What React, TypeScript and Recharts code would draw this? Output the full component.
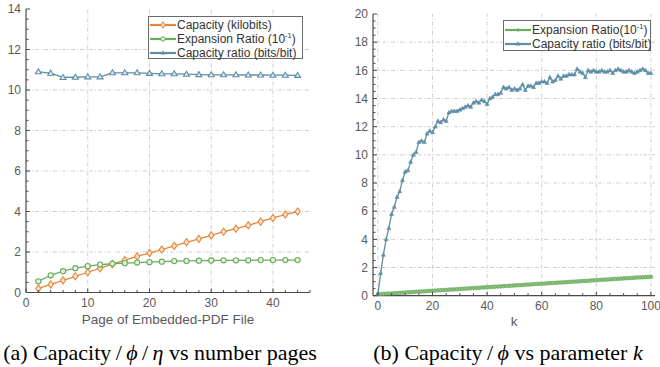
import React from 'react';
import { LineChart, Line, XAxis, YAxis, ReferenceLine } from 'recharts';

// (a) capacity vs number of pages
const pages = [2, 4, 6, 8, 10, 12, 14, 16, 18, 20, 22, 24, 26, 28, 30, 32, 34, 36, 38, 40, 42, 44];
const capacityKb = [0.2, 0.4, 0.6, 0.8, 1.0, 1.2, 1.4, 1.6, 1.78, 1.95, 2.12, 2.3, 2.48, 2.65, 2.82, 3.0, 3.15, 3.32, 3.5, 3.68, 3.85, 4.0];
const expansionA = [0.55, 0.85, 1.05, 1.2, 1.3, 1.38, 1.42, 1.45, 1.48, 1.5, 1.52, 1.55, 1.56, 1.57, 1.58, 1.59, 1.59, 1.59, 1.6, 1.6, 1.6, 1.6];
const ratioA = [10.9, 10.83, 10.62, 10.63, 10.65, 10.65, 10.85, 10.85, 10.85, 10.82, 10.8, 10.8, 10.78, 10.76, 10.75, 10.75, 10.75, 10.74, 10.74, 10.73, 10.73, 10.72];

// (b) capacity vs parameter k
const kValues = [
  0, 1, 2, 3, 4, 5, 6, 7, 8, 9, 10, 11, 12, 13, 14, 15, 16, 17, 18, 19,
  20, 21, 22, 23, 24, 25, 26, 27, 28, 29, 30, 31, 32, 33, 34, 35, 36, 37, 38, 39,
  40, 41, 42, 43, 44, 45, 46, 47, 48, 49, 50, 51, 52, 53, 54, 55, 56, 57, 58, 59,
  60, 61, 62, 63, 64, 65, 66, 67, 68, 69, 70, 71, 72, 73, 74, 75, 76, 77, 78, 79,
  80, 81, 82, 83, 84, 85, 86, 87, 88, 89, 90, 91, 92, 93, 94, 95, 96, 97, 98, 99, 100,
];
const expansionB = [
  0.10, 0.11, 0.13, 0.14, 0.15, 0.16, 0.18, 0.19, 0.20, 0.21, 0.23, 0.24, 0.25, 0.26, 0.28, 0.29, 0.30, 0.31, 0.33, 0.34,
  0.35, 0.36, 0.38, 0.39, 0.40, 0.41, 0.43, 0.44, 0.45, 0.46, 0.48, 0.49, 0.50, 0.51, 0.53, 0.54, 0.55, 0.56, 0.58, 0.59,
  0.60, 0.61, 0.63, 0.64, 0.65, 0.66, 0.68, 0.69, 0.70, 0.71, 0.73, 0.74, 0.75, 0.76, 0.78, 0.79, 0.80, 0.81, 0.83, 0.84,
  0.85, 0.86, 0.88, 0.89, 0.90, 0.91, 0.93, 0.94, 0.95, 0.96, 0.98, 0.99, 1.00, 1.01, 1.03, 1.04, 1.05, 1.06, 1.08, 1.09,
  1.10, 1.11, 1.13, 1.14, 1.15, 1.16, 1.18, 1.19, 1.20, 1.21, 1.23, 1.24, 1.25, 1.26, 1.28, 1.29, 1.30, 1.31, 1.32, 1.33, 1.34,
];
const ratioB = [
  0.1, 1.6, 2.9, 4.0, 4.8, 5.8, 6.3, 7.0, 7.4, 8.2, 8.8, 8.9, 9.5, 10.0, 10.2, 10.9, 11.0, 10.9, 11.5, 11.7,
  11.6, 12.0, 12.4, 12.3, 12.5, 12.4, 13.0, 13.1, 13.1, 13.1, 13.2, 13.3, 13.4, 13.5, 13.4, 13.7, 13.8, 13.7, 13.9, 13.8,
  13.6, 14.0, 14.1, 14.3, 14.3, 14.4, 14.8, 14.7, 14.8, 14.6, 14.7, 14.6, 14.7, 15.0, 14.6, 14.9, 14.9, 14.8, 15.1, 15.1,
  15.2, 15.2, 15.1, 15.5, 15.2, 15.3, 15.6, 15.4, 15.6, 15.6, 15.7, 15.7, 15.7, 16.1, 15.9, 15.8, 15.5, 16.0, 15.9, 16.0,
  15.9, 15.9, 16.0, 15.9, 15.9, 16.0, 15.8, 16.0, 16.1, 16.0, 15.9, 15.9, 16.0, 15.9, 15.8, 15.9, 16.0, 16.1, 16.0, 15.8, 15.8,
];

const ticksA_x = [0, 2, 4, 6, 8, 10, 12, 14, 16, 18, 20, 22, 24, 26, 28, 30, 32, 34, 36, 38, 40, 42, 44, 46];
const gridA_x = [10, 20, 30, 40];
const ticksA_y = [0, 0.5, 1, 1.5, 2, 2.5, 3, 3.5, 4, 4.5, 5, 5.5, 6, 6.5, 7, 7.5, 8, 8.5, 9, 9.5, 10, 10.5, 11, 11.5, 12, 12.5, 13, 13.5, 14];
const gridA_y = [2, 4, 6, 8, 10, 12];
const ticksB_x = [0, 5, 10, 15, 20, 25, 30, 35, 40, 45, 50, 55, 60, 65, 70, 75, 80, 85, 90, 95, 100];
const gridB_x = [0, 20, 40, 60, 80, 100];
const ticksB_y = [
  0, 0.5, 1, 1.5, 2, 2.5, 3, 3.5, 4, 4.5, 5, 5.5, 6, 6.5, 7, 7.5, 8, 8.5, 9, 9.5, 10,
  10.5, 11, 11.5, 12, 12.5, 13, 13.5, 14, 14.5, 15, 15.5, 16, 16.5, 17, 17.5, 18, 18.5, 19, 19.5, 20,
];
const gridB_y = [2, 4, 6, 8, 10, 12, 14, 16, 18];

const ORANGE = '#e3883b';
const GREEN = '#6aab5e';
const BLUE = '#5f8ea6';
const FRAME = '#4a4a4a';
const TEXT = '#5a5a5a';
const SANS = '"Liberation Sans", Arial, sans-serif';

const dataA = pages.map((p, i) => ({ page: p, cap: capacityKb[i], exp: expansionA[i], ratio: ratioA[i] }));
const dataB = kValues.map((k, i) => ({ k, exp: expansionB[i], ratio: ratioB[i] }));

const makeTick = (side: string, step: number, margin: number, labels: boolean) => (props: any) => {
  const { x, y, payload } = props;
  const v = payload.value;
  const major = Math.abs(v / step - Math.round(v / step)) < 1e-6;
  const len = major ? 4 : 2.5;
  let line = null;
  let text = null;
  if (side === 'bottom') {
    const ay = y - margin;
    line = <line x1={x} x2={x} y1={ay} y2={ay - len} stroke={FRAME} />;
    if (labels && major) text = <text x={x} y={y} dy="0.71em" textAnchor="middle" fill={TEXT} fontSize={12} fontFamily={SANS}>{v}</text>;
  } else if (side === 'left') {
    const ax = x + margin;
    line = <line x1={ax} x2={ax + len} y1={y} y2={y} stroke={FRAME} />;
    if (labels && major) text = <text x={x} y={y} dy="0.35em" textAnchor="end" fill={TEXT} fontSize={12} fontFamily={SANS}>{v}</text>;
  } else if (side === 'top') {
    line = <line x1={x} x2={x} y1={y} y2={y + len} stroke={FRAME} />;
  } else {
    line = <line x1={x} x2={x - len} y1={y} y2={y} stroke={FRAME} />;
  }
  return <g>{line}{text}</g>;
};

const diamond = (p: any) => {
  if (p.cx == null) return <g key={p.index} />;
  const { cx, cy } = p;
  return <path key={p.index} d={`M${cx} ${cy - 3.6}L${cx + 2.6} ${cy}L${cx} ${cy + 3.6}L${cx - 2.6} ${cy}Z`} fill="#fbe3cf" stroke={ORANGE} strokeWidth={1.1} />;
};
const circle = (p: any) => {
  if (p.cx == null) return <g key={p.index} />;
  return <circle key={p.index} cx={p.cx} cy={p.cy} r={2.6} fill="#e4f1e0" stroke={GREEN} strokeWidth={1.1} />;
};
const triangle = (p: any) => {
  if (p.cx == null) return <g key={p.index} />;
  const { cx, cy } = p;
  return <path key={p.index} d={`M${cx} ${cy - 3}L${cx + 3} ${cy + 2}L${cx - 3} ${cy + 2}Z`} fill="#dfeaf0" stroke={BLUE} strokeWidth={1.1} />;
};
const smallTriangle = (p: any) => {
  if (p.cx == null) return <g key={p.index} />;
  const { cx, cy } = p;
  return <path key={p.index} d={`M${cx} ${cy - 2.2}L${cx + 2} ${cy + 1.4}L${cx - 2} ${cy + 1.4}Z`} fill={BLUE} stroke={BLUE} strokeWidth={0.6} />;
};
const smallDot = (p: any) => {
  if (p.cx == null) return <g key={p.index} />;
  return <circle key={p.index} cx={p.cx} cy={p.cy} r={1.8} fill="#8cc07f" stroke={GREEN} strokeWidth={0.8} />;
};

const gridStroke = { stroke: '#cfcfcf', strokeDasharray: '4 2 1 2', strokeWidth: 1 };

const Sample = ({ color, marker }: { color: string; marker: string }) => (
  <svg width={26} height={10} style={{ display: 'block', flex: 'none' }}>
    <line x1={0} x2={26} y1={5} y2={5} stroke={color} strokeWidth={2.2} />
    {marker === 'diamond' && <path d="M13 1.8L15.2 5L13 8.2L10.8 5Z" fill="#fbe3cf" stroke={color} strokeWidth={1} />}
    {marker === 'circle' && <circle cx={13} cy={5} r={2.2} fill="#e4f1e0" stroke={color} strokeWidth={1} />}
    {marker === 'triangle' && <path d="M13 2.2L15.6 6.6L10.4 6.6Z" fill={color} />}
    {marker === 'star' && <circle cx={13} cy={5} r={1.5} fill={color} />}
  </svg>
);

const LegendRow = ({ color, marker, children }: any) => (
  <div style={{ display: 'flex', alignItems: 'center', height: 14, whiteSpace: 'nowrap' }}>
    <Sample color={color} marker={marker} />
    <span style={{ marginLeft: 1 }}>{children}</span>
  </div>
);

const legendBox: React.CSSProperties = {
  position: 'absolute',
  background: '#fff',
  border: '1.3px solid #6a6a6a',
  fontFamily: SANS,
  fontSize: 12,
  color: '#333',
  boxSizing: 'border-box',
};

const supStyle: React.CSSProperties = { fontSize: 7.5, verticalAlign: 5, lineHeight: 0 };

const captionStyle: React.CSSProperties = {
  position: 'absolute',
  top: 342,
  textAlign: 'center',
  fontFamily: '"Liberation Serif", serif',
  fontSize: 22,
  lineHeight: '22px',
  color: '#000',
  whiteSpace: 'nowrap',
};

export default function App() {
  return (
    <div style={{ position: 'absolute', left: 0, top: 0, width: 660, height: 367, background: '#fff' }}>
      <div style={{ position: 'absolute', left: 0, top: 0 }}>
        <LineChart width={330} height={340} data={dataA} margin={{ top: 9, right: 20, bottom: 0, left: 0 }}>
          <XAxis dataKey="page" type="number" domain={[0, 46]} ticks={ticksA_x} interval={0} allowDataOverflow
            height={47.5} tickSize={0} tickMargin={6} tickLine={false} tick={makeTick('bottom', 10, 6, true)}
            axisLine={{ stroke: FRAME, strokeWidth: 1.2 }}
            label={{ value: 'Page of Embedded-PDF File', position: 'insideTop', offset: 21.5, fill: TEXT, fontSize: 13.5, fontFamily: SANS }} />
          <XAxis xAxisId="top" orientation="top" dataKey="page" type="number" domain={[0, 46]} ticks={ticksA_x} interval={0} allowDataOverflow
            height={0} tickSize={0} tickMargin={0} tickLine={false} tick={makeTick('top', 10, 0, false)} axisLine={{ stroke: FRAME, strokeWidth: 1.2 }} />
          <YAxis type="number" domain={[0, 14]} ticks={ticksA_y} interval={0} allowDataOverflow width={26}
            tickSize={0} tickMargin={5} tickLine={false} tick={makeTick('left', 2, 5, true)} axisLine={{ stroke: FRAME, strokeWidth: 1.2 }} />
          <YAxis yAxisId="right" orientation="right" type="number" domain={[0, 14]} ticks={ticksA_y} interval={0} allowDataOverflow width={0}
            tickSize={0} tickMargin={0} tickLine={false} tick={makeTick('right', 2, 0, false)} axisLine={{ stroke: FRAME, strokeWidth: 1.2 }} />
          {gridA_x.map((v) => <ReferenceLine key={`gx${v}`} x={v} {...gridStroke} />)}
          {gridA_y.map((v) => <ReferenceLine key={`gy${v}`} y={v} {...gridStroke} />)}
          <Line dataKey="cap" stroke={ORANGE} strokeWidth={1.3} dot={diamond} activeDot={false} isAnimationActive={false} />
          <Line dataKey="exp" stroke={GREEN} strokeWidth={1.3} dot={circle} activeDot={false} isAnimationActive={false} />
          <Line dataKey="ratio" stroke={BLUE} strokeWidth={1.3} dot={triangle} activeDot={false} isAnimationActive={false} />
        </LineChart>
      </div>
      <div style={{ ...legendBox, left: 148, top: 16, width: 155, height: 43, paddingTop: 0.5, paddingLeft: 1 }}>
        <LegendRow color={ORANGE} marker="diamond">Capacity (kilobits)</LegendRow>
        <LegendRow color={GREEN} marker="circle">Expansion Ratio (10<sup style={supStyle}>-1</sup>)</LegendRow>
        <LegendRow color={BLUE} marker="triangle">Capacity ratio (bits/bit)</LegendRow>
      </div>

      <div style={{ position: 'absolute', left: 330, top: 0 }}>
        <LineChart width={330} height={340} data={dataB} margin={{ top: 14, right: 5, bottom: 0, left: 0 }}>
          <XAxis dataKey="k" type="number" domain={[-1.8, 101.5]} ticks={ticksB_x} interval={0} allowDataOverflow
            height={44.3} tickSize={0} tickMargin={6} tickLine={false} tick={makeTick('bottom', 20, 6, true)}
            axisLine={{ stroke: FRAME, strokeWidth: 1.2 }}
            label={{ value: 'k', position: 'insideTop', offset: 21, fill: TEXT, fontSize: 13.5, fontFamily: SANS }} />
          <XAxis xAxisId="top" orientation="top" dataKey="k" type="number" domain={[-1.8, 101.5]} ticks={ticksB_x} interval={0} allowDataOverflow
            height={0} tickSize={0} tickMargin={0} tickLine={false} tick={makeTick('top', 20, 0, false)} axisLine={{ stroke: FRAME, strokeWidth: 1.2 }} />
          <YAxis type="number" domain={[0, 20]} ticks={ticksB_y} interval={0} allowDataOverflow width={43}
            tickSize={0} tickMargin={5} tickLine={false} tick={makeTick('left', 2, 5, true)} axisLine={{ stroke: FRAME, strokeWidth: 1.2 }} />
          <YAxis yAxisId="right" orientation="right" type="number" domain={[0, 20]} ticks={ticksB_y} interval={0} allowDataOverflow width={0}
            tickSize={0} tickMargin={0} tickLine={false} tick={makeTick('right', 2, 0, false)} axisLine={{ stroke: FRAME, strokeWidth: 1.2 }} />
          {gridB_x.map((v) => <ReferenceLine key={`gx${v}`} x={v} {...gridStroke} />)}
          {gridB_y.map((v) => <ReferenceLine key={`gy${v}`} y={v} {...gridStroke} />)}
          <Line dataKey="exp" stroke={GREEN} strokeWidth={2} dot={smallDot} activeDot={false} isAnimationActive={false} />
          <Line dataKey="ratio" stroke={BLUE} strokeWidth={1.3} dot={smallTriangle} activeDot={false} isAnimationActive={false} />
        </LineChart>
      </div>
      <div style={{ ...legendBox, left: 503, top: 20, width: 148, height: 31, paddingTop: 1.5, paddingLeft: 1 }}>
        <LegendRow color={GREEN} marker="star">Expansion Ratio(10<sup style={supStyle}>-1</sup>)</LegendRow>
        <LegendRow color={BLUE} marker="triangle">Capacity ratio (bits/bit)</LegendRow>
      </div>

      <div style={{ ...captionStyle, left: 0, width: 320 }}>
        (a) Capacity{'\u2009'}/{'\u2009'}<i>ϕ</i>{'\u2009'}/{'\u2009'}<i>η</i> vs number pages
      </div>
      <div style={{ ...captionStyle, left: 358, width: 300 }}>
        (b) Capacity{'\u2009'}/{'\u2009'}<i>ϕ</i> vs parameter <i>k</i>
      </div>
    </div>
  );
}
